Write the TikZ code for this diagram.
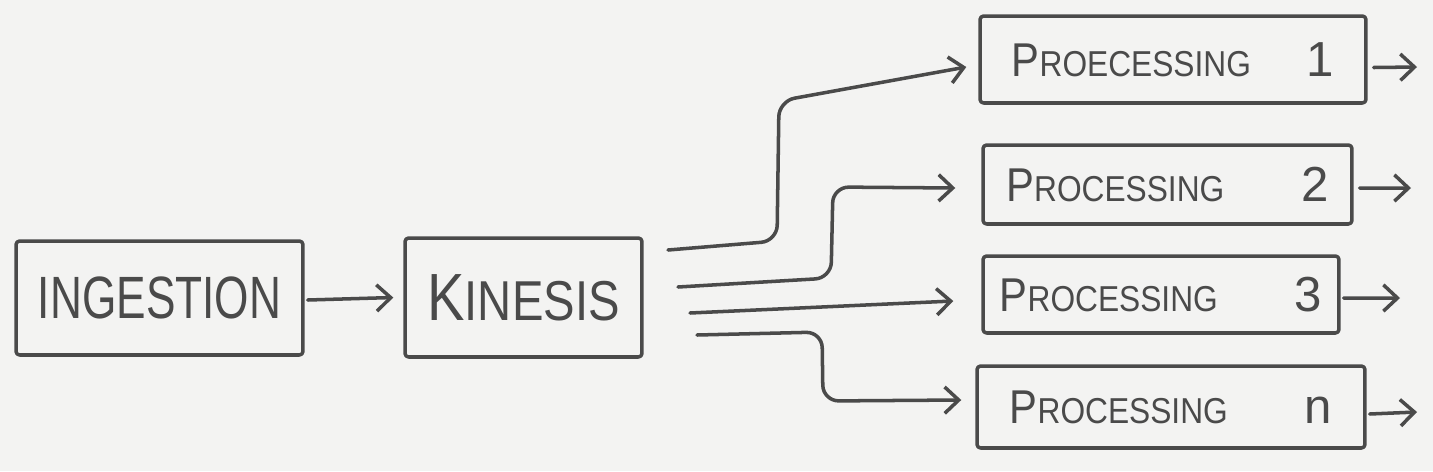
\documentclass[tikz,border=0pt]{standalone}
\usepackage{fontspec}
\setmainfont{Liberation Sans}
\usetikzlibrary{arrows.meta,calc}
\definecolor{bgc}{HTML}{F3F3F2}
\definecolor{inkc}{HTML}{4A4A4A}
\newcommand{\hwtext}[2]{{\fontsize{#1}{#1}\selectfont #2}}
\newcommand{\proclabel}[3]{\makebox[6.45cm][l]{\scalebox{0.88}[1]{\hwtext{27}{#1}\hwtext{20.5}{#2}}\hfill\hwtext{28}{#3}}}
\begin{document}
\begin{tikzpicture}[x=0.02cm,y=-0.02cm,
  ink/.style={draw=inkc, line width=2pt, line cap=round, line join=round},
  box/.style={ink, rectangle, rounded corners=2pt, inner sep=0pt, text=inkc},
  conn/.style={ink, -{Straight Barb[length=8pt,width=15pt]}, rounded corners=9pt}]
\fill[bgc] (0,0) rectangle (1433,471);
\useasboundingbox (0,0) rectangle (1433,471);

\node[box, minimum width=5.74cm, minimum height=2.28cm] (ing) at (159.5,298)
  {\scalebox{0.74}[1]{\hwtext{34}{INGESTION}}};
\node[box, minimum width=4.74cm, minimum height=2.38cm] (kin) at (523.5,297.5)
  {\scalebox{0.84}[1]{\hwtext{38}{K}\hwtext{32}{INESIS}}};

\node[box, minimum width=7.72cm, minimum height=1.74cm] (p1) at (1173,59.5)
  {\proclabel{P}{ROECESSING}{1}};
\node[box, minimum width=7.38cm, minimum height=1.58cm] (p2) at (1167.5,184.5)
  {\proclabel{P}{ROCESSING}{2}};
\node[box, minimum width=7.12cm, minimum height=1.54cm] (p3) at (1161,294.5)
  {\proclabel{P}{ROCESSING}{3}};
\node[box, minimum width=7.76cm, minimum height=1.64cm] (pn) at (1171,407)
  {\proclabel{P}{ROCESSING}{n}};

% ingestion -> kinesis
\draw[conn] ($(ing.east)+(3,2)$) -- ($(kin.west)+(-10,0)$);

% kinesis fan-out (free start ends)
\coordinate (k1) at (668,250);
\coordinate (k2) at (678,287);
\coordinate (k3) at (690,313);
\coordinate (k4) at (697,335);
\draw[conn] (k1) -- (777,241) -- (779,101) -- ($(p1.west)+(-12,7.5)$);
\draw[conn] (k2) -- (831,278) -- (833,187) -- ($(p2.west)+(-26,3.5)$);
\draw[conn] (k3) -- ($(p3.west)+(-28,6.5)$);
\draw[conn] (k4) -- (822,332) -- (823,401) -- ($(pn.west)+(-14,-7)$);

% outputs (free ends)
\coordinate (o1) at (1417,67);
\coordinate (o2) at (1411,188);
\coordinate (o3) at (1400,298);
\coordinate (o4) at (1417,412);
\draw[conn] ($(p1.east)+(6,8)$) -- (o1);
\draw[conn] ($(p2.east)+(6,3.5)$) -- (o2);
\draw[conn] ($(p3.east)+(3,3.5)$) -- (o3);
\draw[conn] ($(pn.east)+(3,7)$) -- (o4);
\end{tikzpicture}
\end{document}
